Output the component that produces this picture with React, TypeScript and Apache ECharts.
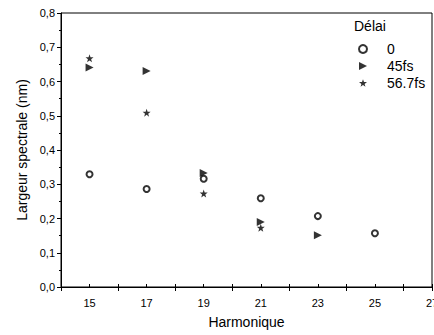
import React, { useEffect, useRef } from "react";
import * as echarts from "echarts";

const harmonics0 = [15, 17, 19, 21, 23, 25];
const values0 = [0.329, 0.286, 0.316, 0.259, 0.207, 0.157];
const harmonics45 = [15, 17, 19, 21, 23];
const values45 = [0.641, 0.631, 0.333, 0.19, 0.151];
const harmonics567 = [15, 17, 19, 21];
const values567 = [0.668, 0.509, 0.273, 0.173];
const seriesNames = ["0", "45fs", "56.7fs"];
const legendTitle = "Délai";
const xName = "Harmonique";
const yName = "Largeur spectrale (nm)";

const TRI = "path://M0,0 L10,5 L0,10 Z";
const STAR =
  "path://M10,0 L12.35,6.76 L19.51,6.91 L13.8,11.24 L15.88,18.09 L10,14 L4.12,18.09 L6.2,11.24 L0.49,6.91 L7.65,6.76 Z";

const FONT = "Liberation Sans, Arial, Helvetica, sans-serif";

export default function App() {
  const ref = useRef<HTMLDivElement>(null);
  useEffect(() => {
    const chart = echarts.init(ref.current!, null, { renderer: "svg" });
    const pair = (xs: number[], ys: number[]) => xs.map((x, i) => [x, ys[i]]);
    chart.setOption({
      animation: false,
      backgroundColor: "#fff",
      textStyle: { fontFamily: FONT, color: "#000" },
      grid: {
        left: 61,
        right: 2,
        top: 13,
        bottom: 48,
        outerBoundsMode: "none",
        containLabel: false,
        show: true,
        borderColor: "#000",
        borderWidth: 1,
      },
      legend: {
        orient: "vertical",
        left: 353,
        top: 37,
        itemWidth: 8,
        itemHeight: 8,
        itemGap: 3,
        data: seriesNames,
        textStyle: { fontFamily: FONT, fontSize: 14, color: "#000", padding: [0, 0, 0, 15] },
      },
      graphic: [
        {
          type: "text",
          left: 354,
          top: 19,
          style: { text: legendTitle, font: `14px ${FONT}`, fill: "#000" },
        },
      ],
      xAxis: [
        {
          type: "value",
          min: 14,
          max: 27,
          interval: 1,
          name: xName,
          nameLocation: "middle",
          nameGap: 28,
          nameTextStyle: { fontFamily: FONT, fontSize: 14, color: "#000" },
          axisLine: { lineStyle: { color: "#000", width: 1 } },
          axisTick: { inside: true, length: 3, lineStyle: { color: "#000" } },
          axisLabel: {
            fontFamily: FONT,
            fontSize: 11,
            color: "#000",
            margin: 10,
            formatter: (v: number) => (v % 2 === 1 ? String(v) : ""),
          },
          splitLine: { show: false },
        },
        {
          type: "value",
          position: "bottom",
          min: 15,
          max: 28,
          interval: 2,
          axisLine: { show: false },
          axisTick: { length: 4, lineStyle: { color: "#000" } },
          axisLabel: { show: false },
          splitLine: { show: false },
        },
      ],
      yAxis: {
        type: "value",
        min: 0,
        max: 0.8,
        interval: 0.1,
        name: yName,
        nameLocation: "middle",
        nameGap: 32,
        nameTextStyle: { fontFamily: FONT, fontSize: 14, color: "#000" },
        axisLine: { show: true, lineStyle: { color: "#000", width: 1 } },
        axisTick: { length: 4, lineStyle: { color: "#000" } },
        minorTick: { show: true, splitNumber: 2, length: 2, lineStyle: { color: "#000" } },
        axisLabel: {
          fontFamily: FONT,
          fontSize: 11,
          color: "#000",
          margin: 6,
          formatter: (v: number) => v.toFixed(1).replace(".", ","),
        },
        splitLine: { show: false },
      },
      series: [
        {
          name: seriesNames[0],
          type: "scatter",
          symbol: "emptyCircle",
          symbolSize: 6,
          itemStyle: { color: "#000", borderColor: "#000", borderWidth: 1.6 },
          data: pair(harmonics0, values0),
        },
        {
          name: seriesNames[1],
          type: "scatter",
          symbol: TRI,
          symbolSize: 8,
          itemStyle: { color: "#000" },
          data: pair(harmonics45, values45),
        },
        {
          name: seriesNames[2],
          type: "scatter",
          symbol: STAR,
          symbolSize: 8,
          itemStyle: { color: "#000" },
          data: pair(harmonics567, values567),
        },
      ],
    });
    return () => chart.dispose();
  }, []);
  return (
    <div
      ref={ref}
      style={{ position: "absolute", left: 0, top: 0, width: 434, height: 335 }}
    />
  );
}
